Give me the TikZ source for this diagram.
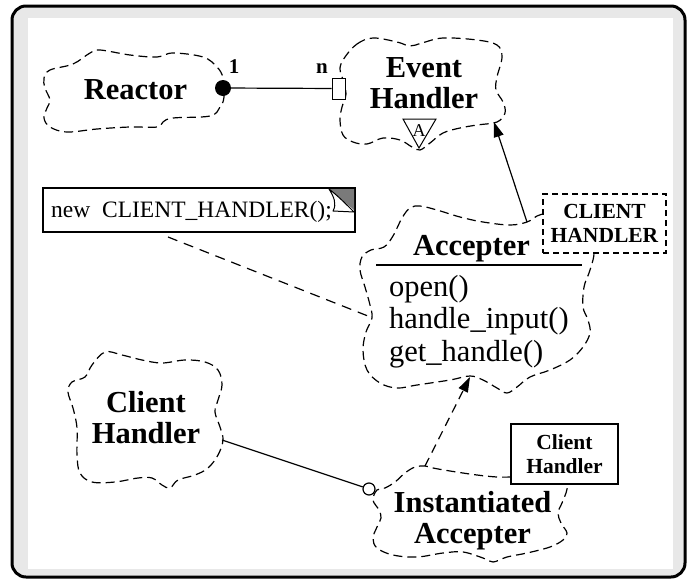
\documentclass[tikz,border=0pt]{standalone}
\usepackage{fontspec}
\setmainfont{Liberation Serif}
\usetikzlibrary{arrows.meta}
\definecolor{framegray}{HTML}{E8E8E8}
\definecolor{foldgray}{HTML}{7A7A7A}
\tikzset{
  cloud/.style={line width=1.2pt, dash pattern=on 9pt off 5pt, line join=round},
  bigbold/.style={font=\fontsize{30.5}{31}\selectfont\bfseries, inner sep=0pt, align=center, anchor=base},
  methods/.style={font=\fontsize{30.5}{32.5}\selectfont, inner sep=0pt, align=left, anchor=base west},
  smallbold/.style={font=\fontsize{21.5}{24}\selectfont\bfseries, inner sep=0pt, align=center},
  mult/.style={font=\fontsize{21}{22}\selectfont\bfseries, inner sep=0pt, anchor=base},
  link/.style={line width=1.2pt},
  dashlink/.style={line width=1.2pt, dash pattern=on 10pt off 7pt},
  headtip/.style={-{Triangle[length=15pt,width=10pt]}}
}
\begin{document}
\begin{tikzpicture}[x=1pt,y=-1pt]
\useasboundingbox (0,0) rectangle (694,579);
% frame
\draw[line width=3pt, fill=framegray, rounded corners=14pt] (12,6) rectangle (685,577);
\fill[white] (28,18) rectangle (673,569);

% Reactor
\draw[cloud] plot[smooth cycle, tension=0.6] coordinates {
  (50,70) (73,64) (90,53) (100,50) (130,55) (157,57) (173,53) (203,57) (217,67) (223,78)
  (224,97) (220,107) (210,116) (173,118) (163,122) (157,127) (130,127) (97,129) (67,132)
  (50,127) (44,118) (47,108) (50,100) (45,88) (44,78)};
\node[bigbold] (reactor) at (135.5,99) {Reactor};

% Event Handler
\draw[cloud] plot[smooth cycle, tension=0.6] coordinates {
  (345,57) (357,44) (373,38) (397,42) (410,46) (422,43) (443,38) (477,40) (497,45) (502,57)
  (497,77) (496,90) (503,102) (505,113) (497,122) (477,125) (460,128) (443,133) (430,143)
  (420,150) (412,147) (400,140) (383,138) (367,144) (353,142) (343,135) (340,120) (342,107)
  (346,94) (343,80) (340,68)};
\node[bigbold] (event) at (424,108) {Event\\Handler};
\draw[line width=1pt] (403,119) -- (436,119) -- (419,148) -- cycle;
\node[font=\fontsize{18}{18}\selectfont, inner sep=0pt, anchor=base] (abstract) at (419,136) {A};

% Reactor 1 -- n Event Handler
\node[circle, fill=black, minimum size=16pt, inner sep=0pt] (rdot) at (223,88) {};
\node[draw, line width=1pt, fill=white, minimum width=13pt, minimum height=21pt, inner sep=0pt] (eport) at (338.5,88.5) {};
\draw[link] (rdot) -- (eport);
\node[mult] (one) at (234,73) {1};
\node[mult] (many) at (322,73) {n};

% Accepter
\draw[cloud] plot[smooth, tension=0.6] coordinates {
  (543,214) (537,216) (527,222) (510,225) (483,222) (460,217) (437,210) (420,206) (410,208)
  (402,218) (393,236) (384,247) (371,250) (362,257) (360,270) (365,287) (370,305) (372,318)
  (366,332) (363,350) (367,370) (380,383) (397,388) (417,385) (450,380) (470,376) (483,380)
  (497,388) (507,393) (517,387) (530,377) (550,370) (570,360) (583,347) (590,333) (588,320)
  (583,307) (584,287) (589,273) (593,260) (594,254)};
\node[bigbold] (accepter) at (471.5,255) {Accepter};
\draw[line width=1.5pt] (376,265) -- (582,265);
\node[methods] (ops) at (389,361) {open()\\handle\_input()\\get\_handle()};
\node[smallbold, draw, line width=1.5pt, dash pattern=on 6pt off 4pt, fill=white,
      minimum width=123pt, minimum height=59pt] (param) at (604.5,223.5) {CLIENT\\HANDLER};

% generalization to Event Handler
\coordinate (acctop) at (527,222);
\coordinate (ehfoot) at (494,122);
\draw[link, headtip] (acctop) -- (ehfoot);

% note
\node[draw, line width=1.2pt, minimum width=312pt, minimum height=44pt, inner sep=0pt] (note) at (199,210) {};
\node[font=\fontsize{23.5}{24}\selectfont, inner sep=0pt, anchor=base west] (notetext) at (51,217) {new\ \ CLIENT\_HANDLER();};
\fill[foldgray] (329,189) -- (354,189) -- (354,210) -- cycle;
\draw[line width=1pt, fill=white, line join=round] (329,189) .. controls (334,197) and (337,204) .. (333,211)
  -- (354,212) .. controls (346,204) and (338,196) .. (329,189) -- cycle;
\coordinate (accside) at (373,318);
\draw[dashlink] (168,237) -- (accside);

% Client Handler
\draw[cloud] plot[smooth cycle, tension=0.6] coordinates {
  (105,352) (122,355) (142,360) (162,363) (185,360) (205,362) (218,370) (222,385) (218,400)
  (215,412) (220,427) (223,440) (218,455) (208,468) (195,475) (178,480) (170,488) (162,485)
  (152,478) (138,478) (115,482) (92,482) (80,473) (77,455) (77,428) (73,408) (68,392)
  (72,382) (85,377) (92,365)};
\node[bigbold] (client) at (146,443) {Client\\Handler};
\coordinate (chside) at (222,440);

% Instantiated Accepter
\draw[cloud] plot[smooth, tension=0.6] coordinates {
  (511,477) (497,477) (477,475) (450,471) (433,468) (425,466) (415,467) (405,473) (395,482)
  (385,488) (377,490) (373,500) (379,510) (381,518) (377,527) (373,538) (377,548) (393,555)
  (417,557) (443,553) (463,552) (483,558) (493,562) (507,557) (527,553) (550,547) (563,540)
  (567,533) (561,523) (558,513) (562,503) (566,493) (568,484)};
\node[bigbold] (inst) at (472.5,543) {Instantiated\\Accepter};
\node[smallbold, draw, line width=1.2pt, fill=white, minimum width=107pt, minimum height=60pt]
  (actual) at (564.5,454) {Client\\Handler};
\node[circle, draw, line width=1.2pt, fill=white, minimum size=12pt, inner sep=0pt] (ocirc) at (369,489) {};
\draw[link] (chside) -- (ocirc);

% instantiation
\coordinate (insttop) at (425,466);
\coordinate (accfoot) at (470,377);
\draw[dashlink, dash pattern=on 9pt off 6pt, headtip] (insttop) -- (accfoot);
\end{tikzpicture}
\end{document}
